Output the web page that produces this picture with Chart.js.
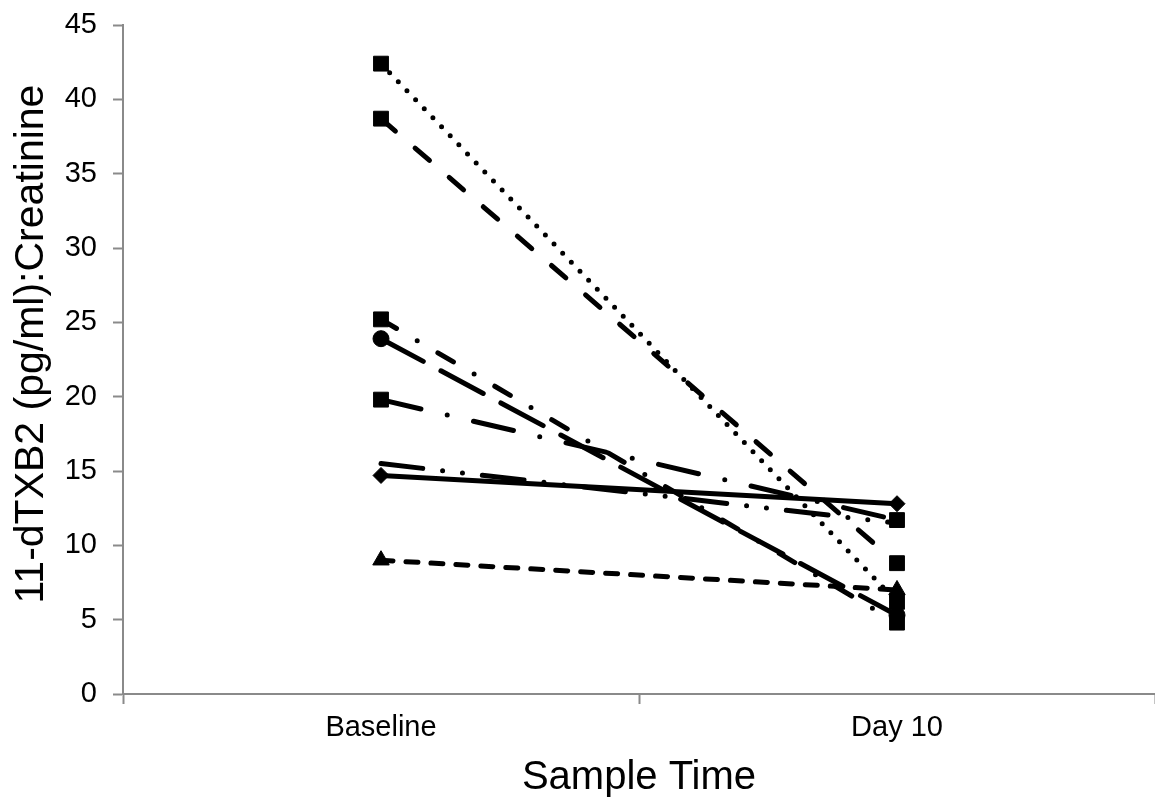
<!DOCTYPE html>
<html>
<head>
<meta charset="utf-8">
<script src="https://cdn.jsdelivr.net/npm/chart.js@4"></script>
<style>
  html, body { margin: 0; padding: 0; background: #fff; }
  #wrap { width: 1155px; height: 800px; }
</style>
</head>
<body>
<div id="wrap"><canvas id="line-chart" width="1155" height="800"></canvas></div>
<script>
const times = ['Baseline', 'Day 10'];

// one pair of values per subject
const subjA = [42.4, 6.2];
const subjB = [38.7, 8.8];
const subjC = [25.2, 4.8];
const subjD = [23.9, 5.3];
const subjE = [19.8, 11.7];
const subjF = [15.5, 11.5];
const subjG = [14.7, 12.8];
const subjH = [9.0, 7.0];

const yTicks = [0, 5, 10, 15, 20, 25, 30, 35, 40, 45];
const yTitle = '11-dTXB2 (pg/ml):Creatinine';

const FONT = "'Liberation Sans', Arial, sans-serif";
const AXIS = '#8a8a8a';

function series(data, dash, marker, radius) {
  return {
    data,
    borderColor: '#000',
    backgroundColor: '#000',
    borderWidth: 5,
    borderDash: dash,
    borderCapStyle: 'round',
    pointStyle: marker,
    pointRadius: radius,
    pointHoverRadius: radius,
    pointBackgroundColor: '#000',
    pointBorderColor: '#000',
    pointBorderWidth: 1,
    tension: 0,
    fill: false,
  };
}

// vertical axis title, placed a little above the middle of the axis
const yTitlePlugin = {
  id: 'yTitle',
  afterDraw(chart) {
    const ctx = chart.ctx;
    ctx.save();
    ctx.translate(32, 344);
    ctx.rotate(-Math.PI / 2);
    ctx.font = '41px ' + FONT;
    ctx.fillStyle = '#000';
    ctx.textAlign = 'center';
    ctx.textBaseline = 'middle';
    ctx.fillText(yTitle, 0, 0);
    ctx.restore();
  },
};

new Chart(document.getElementById('line-chart'), {
  type: 'line',
  data: {
    labels: times,
    datasets: [
      series(subjA, [0, 12.5], 'rect', 10.5),
      series(subjB, [19, 26], 'rect', 10.5),
      series(subjC, [18, 24, 0, 24], 'rect', 10.5),
      series(subjD, [48, 20], 'circle', 8),
      series(subjE, [41, 27, 0, 27], 'rect', 10.5),
      series(subjF, [42, 20, 0, 20, 0, 20], 'circle', 0),
      series(subjG, [], 'rectRot', 8),
      series(subjH, [12, 13], 'triangle', 9.5),
    ],
  },
  plugins: [yTitlePlugin],
  options: {
    responsive: false,
    animation: false,
    events: [],
    layout: { autoPadding: false, padding: { top: 25, right: 0, left: 0, bottom: 0 } },
    plugins: {
      legend: { display: false },
      tooltip: { enabled: false },
    },
    scales: {
      x: {
        type: 'category',
        offset: true,
        grid: {
          offset: true,
          drawOnChartArea: false,
          drawTicks: true,
          tickLength: 10,
          tickWidth: 2,
          tickColor: AXIS,
        },
        border: { color: AXIS, width: 2 },
        ticks: { color: '#000', font: { family: FONT, size: 29 }, padding: 7 },
        title: {
          display: true,
          text: 'Sample Time',
          color: '#000',
          font: { family: FONT, size: 40, lineHeight: 1 },
          padding: { top: 0, bottom: 2 },
        },
        afterFit: s => {
          s.height = 106;
          s.paddingLeft = 0;
          s.paddingRight = 0;
        },
      },
      y: {
        min: 0,
        max: 45,
        afterBuildTicks: s => { s.ticks = yTicks.map(v => ({ value: v })); },
        grid: {
          drawOnChartArea: false,
          drawTicks: true,
          tickLength: 10,
          tickWidth: 2,
          tickColor: AXIS,
        },
        border: { color: AXIS, width: 2 },
        ticks: { color: '#000', font: { family: FONT, size: 29 }, padding: 16 },
        afterFit: s => {
          s.width = 123;
          s.paddingTop = 0;
          s.paddingBottom = 0;
        },
      },
    },
  },
});
</script>
</body>
</html>
